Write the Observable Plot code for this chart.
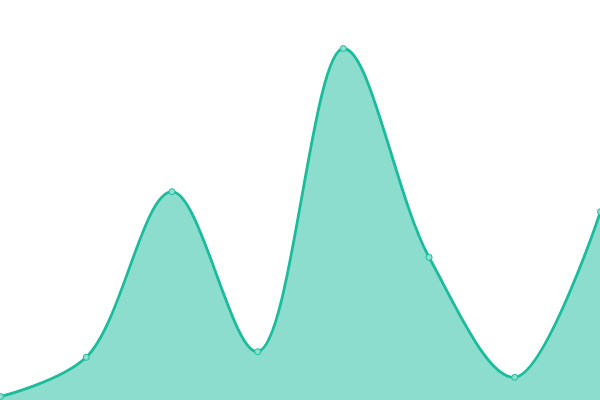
<!DOCTYPE html>
<html><head><meta charset="utf-8">
<script src="https://cdn.jsdelivr.net/npm/d3@7"></script>
<script src="https://cdn.jsdelivr.net/npm/@observablehq/plot@0.6"></script>
<style>html,body{margin:0;padding:0;background:#fff;overflow:hidden}</style>
</head><body><div id="chart"></div>
<script>
const xs = [0, 1, 2, 3, 4, 5, 6, 7];
const values = [1, 10.8, 52.2, 12.2, 88, 35.8, 5.8, 47.2];
const data = xs.map((x, i) => ({x, y: values[i]}));
const chart = Plot.plot({
  width: 600, height: 400,
  margin: 0,
  x: {domain: [0, 7], range: [0, 600], axis: null},
  y: {domain: [0, 100], range: [400, 0], axis: null},
  marks: [
    Plot.areaY(data, {x: "x", y: "y", curve: "catmull-rom", fill: "#1abc9c", fillOpacity: 0.5}),
    Plot.lineY(data, {x: "x", y: "y", curve: "catmull-rom", stroke: "#1abc9c", strokeWidth: 2.8}),
    Plot.dot(data, {x: "x", y: "y", r: 3, fill: "#8ce0d0", stroke: "#1abc9c", strokeWidth: 1})
  ]
});
chart.style.overflow = "visible";
document.getElementById("chart").append(chart);
</script></body></html>
